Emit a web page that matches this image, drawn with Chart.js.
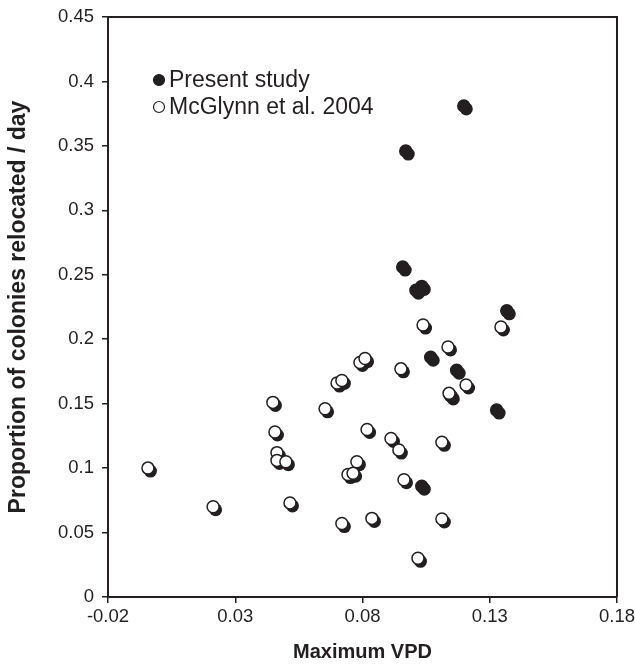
<!DOCTYPE html>
<html>
<head>
<meta charset="utf-8">
<script src="https://cdn.jsdelivr.net/npm/chart.js@4.4.1/dist/chart.umd.min.js"></script>
<style>
    body { margin: 0; background: #fff; }
    #wrap { width: 635px; height: 665px; }
</style>
</head>
<body>
<div id="wrap"><canvas id="vpd" width="635" height="665"></canvas></div>
<script>
// Present study (filled dots)
const presentX = [0.0958, 0.0970, 0.1010, 0.1033, 0.1068, 0.1147, 0.1170, 0.1198, 0.1327, 0.1367, 0.1033];
const presentY = [0.256, 0.346, 0.238, 0.241, 0.186, 0.156, 0.176, 0.381, 0.145, 0.222, 0.086];

// McGlynn et al. 2004 (open dots)
const mcglynnX = [-0.0043, 0.0213, 0.0448, 0.0456, 0.0464, 0.0464, 0.0499, 0.0515, 0.0653, 0.0700,
    0.0719, 0.0719, 0.0743, 0.0763, 0.0778, 0.0790, 0.0810, 0.0818, 0.0837, 0.0912,
    0.0943, 0.0951, 0.0963, 0.1018, 0.1038, 0.1112, 0.1112, 0.1136, 0.1140, 0.1207, 0.1344];
const mcglynnY = [0.100, 0.070, 0.151, 0.128, 0.112, 0.106, 0.105, 0.073, 0.146, 0.166,
    0.168, 0.057, 0.095, 0.096, 0.105, 0.182, 0.185, 0.130, 0.061, 0.123,
    0.114, 0.177, 0.091, 0.030, 0.211, 0.120, 0.0605, 0.194, 0.158, 0.1645, 0.2095];

const xTicks = [-0.02, 0.03, 0.08, 0.13, 0.18];
const yTicks = [0, 0.05, 0.1, 0.15, 0.2, 0.25, 0.3, 0.35, 0.4, 0.45];

const noir = '#231f20';

function points(xs, ys) {
    return xs.map((x, i) => ({x: x, y: ys[i]}));
}

// black offset disc behind every dot
const ombres = {
    id: 'ombres',
    beforeDatasetDraw(chart, args) {
        let ctx = chart.ctx;
        ctx.save();
        ctx.fillStyle = noir;
        args.meta.data.forEach(pt => {
            ctx.beginPath();
            ctx.arc(pt.x + 2.5, pt.y + 3, 6.5, 0, Math.PI * 2);
            ctx.fill();
        });
        ctx.restore();
    }
};

// box around the plot + legend inside the plot
const cadre = {
    id: 'cadre',
    afterDraw(chart) {
        let ctx = chart.ctx;
        let a = chart.chartArea;
        ctx.save();
        ctx.strokeStyle = noir;
        ctx.lineWidth = 2;
        ctx.beginPath();
        ctx.moveTo(a.left, a.top);
        ctx.lineTo(a.right, a.top);
        ctx.lineTo(a.right, a.bottom);
        ctx.stroke();

        ctx.font = '23px "Liberation Sans", Arial, sans-serif';
        ctx.textBaseline = 'middle';
        let ordre = [1, 0];
        ordre.forEach((idx, k) => {
            let ds = chart.data.datasets[idx];
            let cy = a.top + 63 + k * 27;
            let cx = a.left + 51;
            ctx.beginPath();
            ctx.arc(cx, cy, 5.5, 0, Math.PI * 2);
            ctx.fillStyle = ds.backgroundColor;
            ctx.fill();
            ctx.lineWidth = 1.2;
            ctx.strokeStyle = noir;
            ctx.stroke();
            ctx.fillStyle = noir;
            ctx.fillText(ds.label, cx + 10, cy + 1);
        });
        ctx.restore();
    }
};

Chart.defaults.font.family = '"Liberation Sans", Arial, sans-serif';
Chart.defaults.color = noir;

let cvs = document.getElementById('vpd').getContext('2d');
let nuage = new Chart(cvs, {
    type: 'scatter',
    data: {
        datasets: [{
            label: 'McGlynn et al. 2004',
            data: points(mcglynnX, mcglynnY),
            backgroundColor: '#ffffff',
            borderColor: noir,
            borderWidth: 1.5,
            pointRadius: 6,
            order: 0
        }, {
            label: 'Present study',
            data: points(presentX, presentY),
            backgroundColor: noir,
            borderColor: noir,
            borderWidth: 1.5,
            pointRadius: 6,
            order: 1
        }]
    },
    options: {
        responsive: false,
        animation: false,
        events: [],
        layout: { padding: { left: 0, top: 17, right: 18, bottom: 0 } },
        plugins: { legend: { display: false }, tooltip: { enabled: false } },
        scales: {
            x: {
                type: 'linear',
                min: -0.02,
                max: 0.18,
                afterBuildTicks: s => { s.ticks = xTicks.map(v => ({value: v})); },
                afterFit: s => { s.height = 68; s.paddingLeft = 0; s.paddingRight = 0; },
                ticks: { font: { size: 18.5 }, padding: 3, maxRotation: 0, callback: v => String(v) },
                grid: { drawOnChartArea: false, tickLength: 6, color: noir, lineWidth: 1.5 },
                border: { color: noir, width: 2 },
                title: { display: true, text: 'Maximum VPD', font: { size: 20, weight: 'bold' }, padding: { top: 0, bottom: 1 } }
            },
            y: {
                min: 0,
                max: 0.45,
                afterBuildTicks: s => { s.ticks = yTicks.map(v => ({value: v})); },
                afterFit: s => { s.width = 108; s.paddingTop = 0; s.paddingBottom = 0; },
                ticks: { font: { size: 18.5 }, padding: 8, callback: v => String(v) },
                grid: { drawOnChartArea: false, tickLength: 6, color: noir, lineWidth: 1.5 },
                border: { color: noir, width: 2 },
                title: { display: true, text: 'Proportion of colonies relocated / day', font: { size: 23, weight: 'bold' }, padding: { top: 5, bottom: 0 } }
            }
        }
    },
    plugins: [ombres, cadre]
});
</script>
</body>
</html>
